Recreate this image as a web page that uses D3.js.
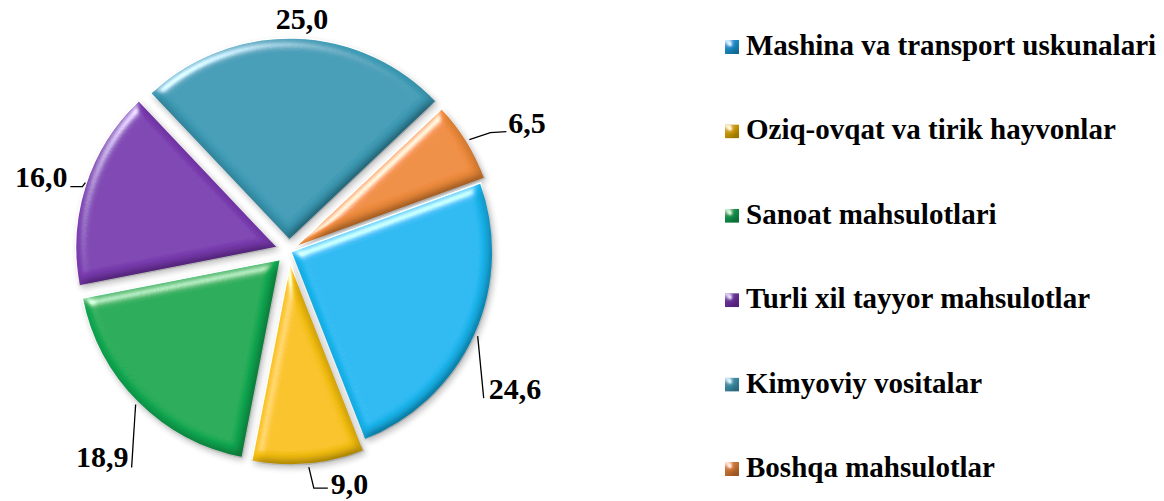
<!DOCTYPE html>
<meta charset="utf-8">
<head>
  <title>Pie chart</title>
  <style>
    body { margin: 0; background: #fff; }
  </style>
</head>

<script src="https://d3js.org/d3.v7.min.js"></script>

<div id="my_dataviz"></div>

<script>

// data
var categories = ["Mashina va transport uskunalari", "Oziq-ovqat va tirik hayvonlar",
                  "Sanoat mahsulotlari", "Turli xil tayyor mahsulotlar",
                  "Kimyoviy vositalar", "Boshqa mahsulotlar"];
var values = [24.6, 9.0, 18.9, 16.0, 25.0, 6.5];
var valueLabels = ["24,6", "9,0", "18,9", "16,0", "25,0", "6,5"];

// styling
var colors = ["#18b7f0", "#f7c10c", "#11aa52", "#7a3ab0", "#3b9ab4", "#ee8b3a"];
var legendColors = ["#1a8cc4", "#c99a05", "#10904a", "#6a2f98", "#3a8aa2", "#c87332"];
var explode = [2, 12, 12, 12, 11, 7];
var serif = "'Liberation Serif', 'Times New Roman', Tinos, serif";

var width = 1164, height = 501;
var cx = 289, cy = 251, radius = 202;

var svg = d3.select("#my_dataviz")
  .append("svg")
    .attr("width", width)
    .attr("height", height);

// bevel look
var defs = svg.append("defs");
var f = defs.append("filter").attr("id", "bevel")
  .attr("x", "-15%").attr("y", "-15%").attr("width", "130%").attr("height", "130%");
f.append("feGaussianBlur").attr("in", "SourceAlpha").attr("stdDeviation", 6).attr("result", "blur");
var spec = f.append("feSpecularLighting").attr("in", "blur")
  .attr("surfaceScale", 6).attr("specularConstant", 1).attr("specularExponent", 35)
  .attr("lighting-color", "#ffffff").attr("result", "spec");
spec.append("feDistantLight").attr("azimuth", 235).attr("elevation", 40);
f.append("feComposite").attr("in", "spec").attr("in2", "SourceAlpha").attr("operator", "in").attr("result", "specIn");
var diff = f.append("feDiffuseLighting").attr("in", "blur")
  .attr("surfaceScale", 6).attr("diffuseConstant", 1.15)
  .attr("lighting-color", "#ffffff").attr("result", "diff");
diff.append("feDistantLight").attr("azimuth", 235).attr("elevation", 60);
f.append("feComposite").attr("in", "SourceGraphic").attr("in2", "diff").attr("operator", "arithmetic")
  .attr("k1", 1).attr("k2", 0).attr("k3", 0).attr("k4", 0).attr("result", "shaded");
f.append("feComposite").attr("in", "shaded").attr("in2", "specIn").attr("operator", "arithmetic")
  .attr("k1", 0).attr("k2", 1).attr("k3", 0.7).attr("k4", 0).attr("result", "lit");
f.append("feComposite").attr("in", "lit").attr("in2", "SourceAlpha").attr("operator", "in");

var shadow = defs.append("filter").attr("id", "shadow")
  .attr("x", "-15%").attr("y", "-15%").attr("width", "130%").attr("height", "130%");
shadow.append("feGaussianBlur").attr("in", "SourceAlpha").attr("stdDeviation", 3);
shadow.append("feOffset").attr("dx", 2).attr("dy", 3).attr("result", "ob");
shadow.append("feComponentTransfer").append("feFuncA").attr("type", "linear").attr("slope", 0.25);

var pie = d3.pie()
  .sort(null)
  .startAngle(70 * Math.PI / 180)
  .endAngle(70 * Math.PI / 180 + 2 * Math.PI);

var arcs = pie(values);

var arc = d3.arc().innerRadius(0).outerRadius(radius);

function offset(d, i) {
  var a = (d.startAngle + d.endAngle) / 2;
  return [cx + explode[i] * Math.sin(a), cy - explode[i] * Math.cos(a)];
}
function rimPoint(d, i, r) {
  var a = (d.startAngle + d.endAngle) / 2;
  var o = offset(d, i);
  return [o[0] + r * Math.sin(a), o[1] - r * Math.cos(a)];
}

// shadows
svg.selectAll(".shd")
  .data(arcs)
  .enter()
  .append("path")
    .attr("class", "shd")
    .attr("transform", function(d, i) { var o = offset(d, i); return "translate(" + o[0] + "," + o[1] + ")"; })
    .attr("d", arc)
    .attr("fill", "#000")
    .attr("filter", "url(#shadow)");

// slices
svg.selectAll(".slice")
  .data(arcs)
  .enter()
  .append("path")
    .attr("class", "slice")
    .attr("transform", function(d, i) { var o = offset(d, i); return "translate(" + o[0] + "," + o[1] + ")"; })
    .attr("d", arc)
    .attr("fill", function(d, i) { return colors[i]; })
    .attr("stroke", "#ffffff")
    .attr("stroke-width", 1.5)
    .attr("filter", "url(#bevel)");

// value labels with leader lines (relative to the slice's rim point)
var labelLayout = [
  { line: [[0, 0], [6, 62]], text: [11, 63], anchor: "start" },
  { line: [[0, 0], [5, 21], [19, 21]], text: [22, 27], anchor: "start" },
  { line: [[0, 0], [-4, 63]], text: [-7, 63], anchor: "end" },
  { line: [[3, -2], [0, 2], [-12, 2]], text: [-15, 2], anchor: "end" },
  { line: null, text: [7, -6], anchor: "middle" },
  { line: [[0, 0], [21, -7], [37, -8]], text: [39, -7], anchor: "start" }
];

arcs.forEach(function(d, i) {
  var p = rimPoint(d, i, radius + 3);
  var L = labelLayout[i];
  if (L.line) {
    svg.append("path")
      .attr("d", d3.line()(L.line.map(function(q) { return [p[0] + q[0], p[1] + q[1]]; })))
      .attr("fill", "none")
      .attr("stroke", "#000")
      .attr("stroke-width", 1.3);
  }
  svg.append("text")
    .attr("x", p[0] + L.text[0])
    .attr("y", p[1] + L.text[1])
    .attr("text-anchor", L.anchor)
    .style("font-family", serif)
    .style("font-weight", "bold")
    .style("font-size", "30px")
    .style("fill", "#000")
    .text(valueLabels[i]);
});

// legend
var legendY = d3.scalePoint()
  .domain(categories)
  .range([55, 477]);

var leg = svg.selectAll(".legend")
  .data(categories)
  .enter()
  .append("g")
    .attr("class", "legend")
    .attr("transform", function(d) { return "translate(725," + legendY(d) + ")"; });

leg.append("rect")
  .attr("x", 0)
  .attr("y", -15)
  .attr("width", 14)
  .attr("height", 14)
  .attr("fill", function(d, i) { return legendColors[i]; })
  .attr("filter", "url(#bevel)");

leg.append("text")
  .attr("x", 21)
  .attr("y", 0)
  .style("font-family", serif)
  .style("font-weight", "bold")
  .style("font-size", "29px")
  .style("fill", "#000")
  .text(function(d) { return d; });

</script>
